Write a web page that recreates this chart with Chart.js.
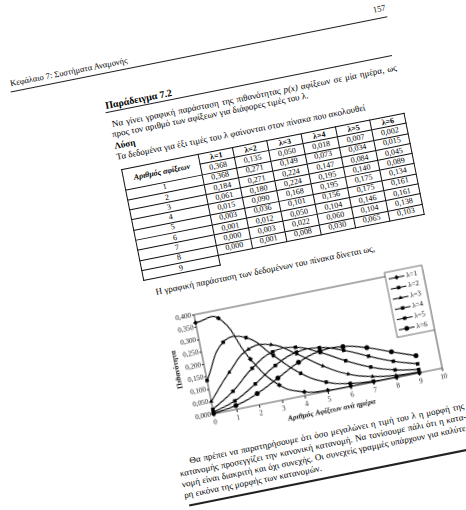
<!DOCTYPE html>
<html>
<head>
<meta charset="utf-8">
<script src="https://cdn.jsdelivr.net/npm/chart.js@4.4.1/dist/chart.umd.min.js"></script>
<style>
html, body { margin: 0; padding: 0; background: #fff; }
body { width: 466px; height: 510px; overflow: hidden; position: relative; font-family: "Liberation Serif", "DejaVu Serif", serif; color: #000; }
#page { position: absolute; left: 0; top: 0; width: 466px; height: 510px; transform: rotate(-11.3deg); transform-origin: 233px 255px; }
#page > div, #page > table, #page > canvas { position: absolute; }
.ln { white-space: nowrap; font-size: 9px; line-height: 10px; }
.jl { text-align: justify; text-align-last: justify; }
.rule { background: #222; height: 1px; }
table { border-collapse: collapse; table-layout: fixed; font-size: 8px; }
tr { height: 10.3px; }
td, th { border: 1px solid #111; padding: 0; text-align: center; line-height: 8px; font-weight: normal; }
th { font-weight: bold; }
th.lab { font-style: italic; vertical-align: middle; }
td.nb { border: none; border-top: 1px solid #111; }
</style>
</head>
<body>
<div id="page">
  <div class="ln" style="left:48px;top:38px;font-size:8.5px">Κεφάλαιο 7: Συστήματα Αναμονής</div>
  <div class="ln" style="left:400px;top:37px;width:31px;text-align:right;font-size:8.5px">157</div>
  <div class="rule" style="left:47px;top:51px;width:384px"></div>

  <div class="ln" style="left:137px;top:79px;font-size:10px;font-weight:bold">Παράδειγμα 7.2</div>
  <div class="rule" style="left:136px;top:90px;width:292px"></div>
  <div class="ln jl" style="left:140px;top:98px;width:290px">Να γίνει γραφική παράσταση της πιθανότητας <i>p(x)</i> αφίξεων σε μία ημέρα, ως</div>
  <div class="ln" style="left:138px;top:108px">προς τον αριθμό των αφίξεων για διάφορες τιμές του λ.</div>
  <div class="ln" style="left:138px;top:120px;font-weight:bold">Λύση</div>
  <div class="ln" style="left:138px;top:131px">Τα δεδομένα για έξι τιμές του λ φαίνονται στον πίνακα που ακολουθεί</div>

  <table id="tbl" style="left:140px;top:149px;width:288px"></table>

  <div class="ln" style="left:150px;top:271px">Η γραφική παράσταση των δεδομένων του πίνακα δίνεται ως,</div>

  <canvas id="chart" style="left:140px;top:296px;width:282px;height:141px" width="282" height="141"></canvas>

  <div class="ln jl" style="left:150px;top:443px;width:280px">Θα πρέπει να παρατηρήσουμε ότι όσο μεγαλώνει η τιμή του λ η μορφή της</div>
  <div class="ln jl" style="left:138px;top:454px;width:292px">κατανομής προσεγγίζει την κανονική κατανομή. Να τονίσουμε πάλι ότι η κατα-</div>
  <div class="ln jl" style="left:138px;top:465px;width:292px">νομή είναι διακριτή και όχι συνεχής. Οι συνεχείς γραμμές υπάρχουν για καλύτε-</div>
  <div class="ln" style="left:138px;top:476px">ρη εικόνα της μορφής των κατανομών.</div>
  <div class="rule" style="left:141px;top:491px;width:300px;height:2px"></div>
</div>

<script>
// arrivals per day (x) and Poisson probabilities for each λ
const arrivals = [0, 1, 2, 3, 4, 5, 6, 7, 8, 9]
const seriesNames = ['λ=1', 'λ=2', 'λ=3', 'λ=4', 'λ=5', 'λ=6']
const lam1 = [0.368, 0.368, 0.184, 0.061, 0.015, 0.003, 0.001, 0.000, 0.000, 0.000]
const lam2 = [0.135, 0.271, 0.271, 0.180, 0.090, 0.036, 0.012, 0.003, 0.001, 0.000]
const lam3 = [0.050, 0.149, 0.224, 0.224, 0.168, 0.101, 0.050, 0.022, 0.008, 0.003]
const lam4 = [0.018, 0.073, 0.147, 0.195, 0.195, 0.156, 0.104, 0.060, 0.030, 0.013]
const lam5 = [0.007, 0.034, 0.084, 0.140, 0.175, 0.175, 0.146, 0.104, 0.065, 0.036]
const lam6 = [0.002, 0.015, 0.045, 0.089, 0.134, 0.161, 0.161, 0.138, 0.103, 0.069]
const rowLabels = ['1', '2', '3', '4', '5', '6', '7', '8', '9']
const yTicks = [0, 0.05, 0.1, 0.15, 0.2, 0.25, 0.3, 0.35, 0.4]

const allSeries = [lam1, lam2, lam3, lam4, lam5, lam6]
const fmt = (v) => v.toFixed(3).replace('.', ',')

// table (rows x = 0..8 as printed)
const tbl = document.getElementById('tbl')
let html = '<colgroup><col style="width:78px">' + '<col style="width:35px">'.repeat(6) + '</colgroup>'
html += '<tr><th class="lab" rowspan="2">Αριθμός αφίξεων</th>' + seriesNames.map((n) => `<th>${n}</th>`).join('') + '</tr>'
html += '<tr>' + allSeries.map((s) => `<td>${fmt(s[0])}</td>`).join('') + '</tr>'
for (let i = 1; i <= 8; i++) {
  html += `<tr><td>${rowLabels[i - 1]}</td>` + allSeries.map((s) => `<td>${fmt(s[i])}</td>`).join('') + '</tr>'
}
html += `<tr><td>${rowLabels[8]}</td>` + '<td class="nb"></td>'.repeat(6) + '</tr>'
tbl.innerHTML = html

const markers = ['rectRot', 'rect', 'triangle', 'rect', 'rect', 'circle']
const serif = '"Liberation Serif", serif'

const frame = {
  id: 'frame',
  beforeDatasetsDraw(chart) {
    const { ctx, chartArea: a } = chart
    ctx.save()
    ctx.strokeStyle = '#222'
    ctx.lineWidth = 0.8
    ctx.beginPath()
    ctx.moveTo(a.left, a.top)
    ctx.lineTo(a.right, a.top)
    ctx.lineTo(a.right, a.bottom)
    ctx.stroke()
    ctx.restore()
  },
}

const boxLegend = {
  id: 'boxLegend',
  afterDraw(chart) {
    const { ctx, chartArea } = chart
    const w = 38, h = 66
    const x = chartArea.right - w, y = chartArea.top - 4
    ctx.save()
    ctx.fillStyle = '#fff'
    ctx.fillRect(x, y, w, h)
    ctx.strokeStyle = '#333'
    ctx.lineWidth = 0.7
    ctx.strokeRect(x, y, w, h)
    chart.data.datasets.forEach((ds, i) => {
      const yy = y + 7 + i * 10.4
      ctx.strokeStyle = '#000'
      ctx.lineWidth = 1
      ctx.beginPath()
      ctx.moveTo(x + 3, yy)
      ctx.lineTo(x + 19, yy)
      ctx.stroke()
      ctx.fillStyle = '#000'
      Chart.helpers.drawPoint(ctx, { pointStyle: ds.pointStyle, radius: 2.4, rotation: 0, borderWidth: 0 }, x + 11, yy)
      ctx.font = '7px ' + serif
      ctx.textBaseline = 'middle'
      ctx.fillText(ds.label, x + 21, yy)
    })
    ctx.restore()
  },
}

new Chart(document.getElementById('chart'), {
  type: 'line',
  data: {
    datasets: allSeries.map((s, i) => ({
      label: seriesNames[i],
      data: arrivals.map((x, j) => ({ x, y: s[j] })),
      borderColor: '#000',
      borderWidth: 1.1,
      pointStyle: markers[i],
      pointRadius: 2.5,
      pointBackgroundColor: '#000',
      pointBorderWidth: 0,
      tension: 0.45,
      clip: 6,
    })),
  },
  options: {
    responsive: false,
    animation: false,
    devicePixelRatio: 2,
    layout: { padding: { top: 10, right: 6, left: 0, bottom: 0 } },
    plugins: { legend: { display: false }, tooltip: { enabled: false } },
    scales: {
      x: {
        type: 'linear',
        min: 0,
        max: 10,
        ticks: { stepSize: 1, color: '#111', font: { family: serif, size: 7 }, padding: 1.5, maxRotation: 0 },
        grid: { display: true, drawOnChartArea: false, drawTicks: true, tickLength: 3, color: '#222' },
        border: { color: '#222', width: 0.8 },
        title: { display: true, text: 'Αριθμός Αφίξεων ανά ημέρα', color: '#111', font: { family: serif, size: 7.5, weight: 'bold', style: 'italic' }, padding: { top: 0, bottom: 6 } },
        afterFit(s) { s.height = 30 },
      },
      y: {
        min: 0,
        max: 0.4,
        afterBuildTicks(s) { s.ticks = yTicks.map((v) => ({ value: v })) },
        ticks: { color: '#111', font: { family: serif, size: 7 }, padding: 1, callback: (v) => fmt(v) },
        grid: { display: true, drawOnChartArea: false, drawTicks: true, tickLength: 2, color: '#222' },
        border: { color: '#222', width: 0.8 },
        title: { display: true, text: 'Πιθανότητα', color: '#111', font: { family: serif, size: 7.5, weight: 'bold' }, padding: { top: 11, bottom: 0 } },
        afterFit(s) { s.width = 43 },
      },
    },
  },
  plugins: [frame, boxLegend],
})
</script>
</body>
</html>
